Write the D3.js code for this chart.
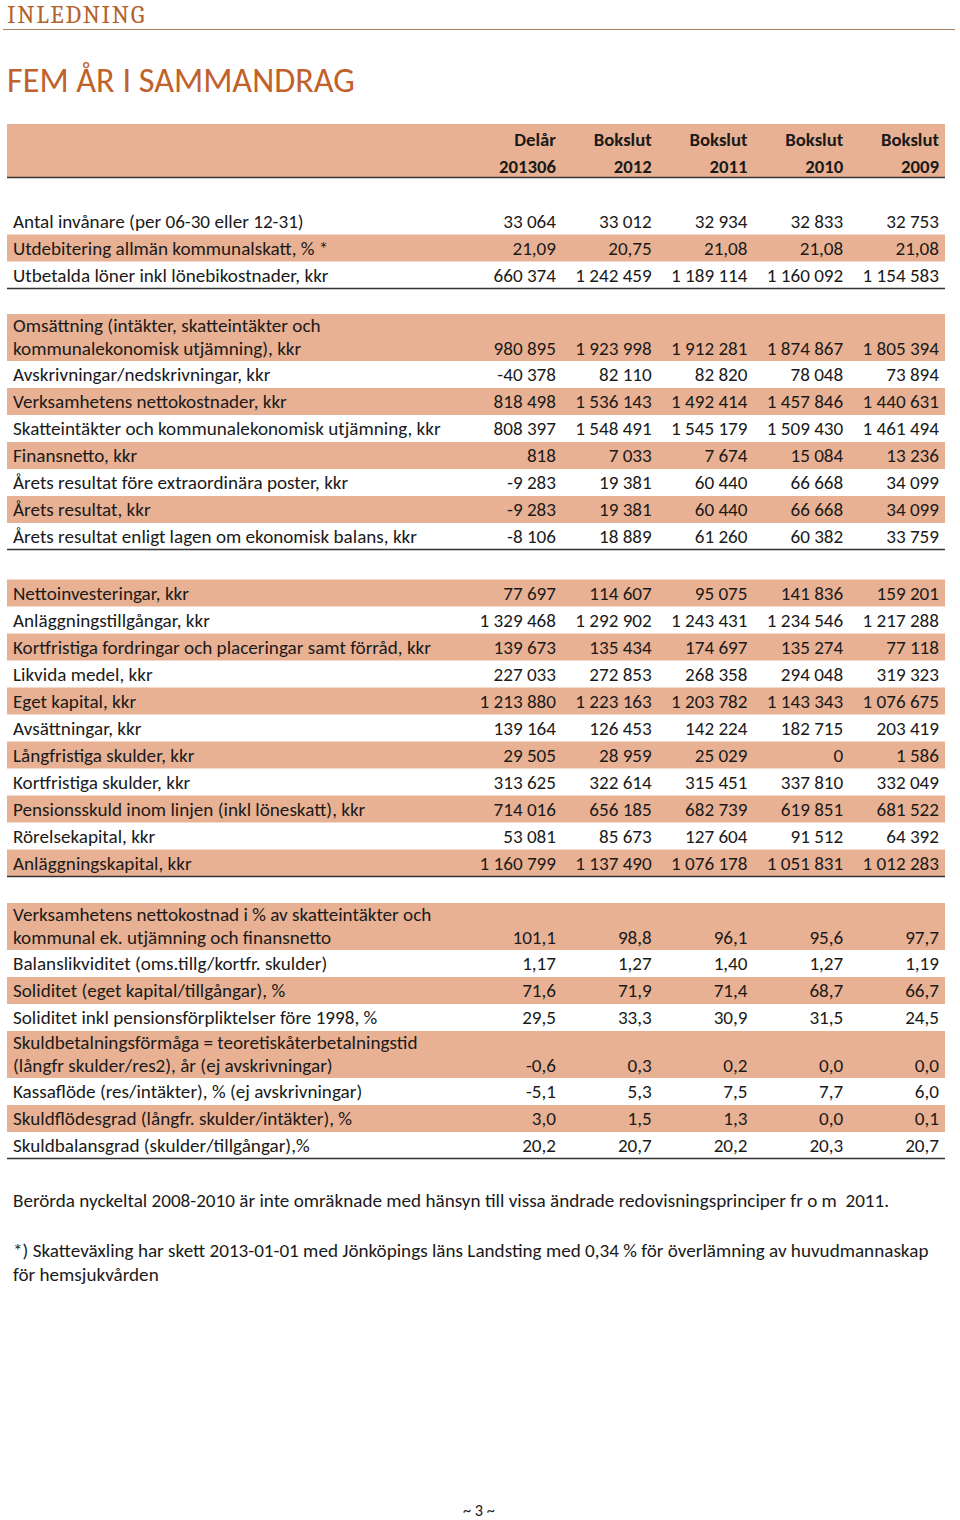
<!DOCTYPE html>
<html><head><meta charset="utf-8">
<script src="https://cdn.jsdelivr.net/npm/d3@7"></script>
<style>
html,body{margin:0;padding:0;background:#fff;}
svg{display:block;}
text{white-space:pre;}
</style></head>
<body>
<script>
// ---------- DATA ----------
const columnTop = ["Delår","Bokslut","Bokslut","Bokslut","Bokslut"];
const columnBottom = ["201306","2012","2011","2010","2009"];
const rowLabels = [
  "Antal invånare (per 06-30 eller 12-31)",
  "Utdebitering allmän kommunalskatt, % *",
  "Utbetalda löner inkl lönebikostnader, kkr",
  "Omsättning (intäkter, skatteintäkter och\nkommunalekonomisk utjämning), kkr",
  "Avskrivningar/nedskrivningar, kkr",
  "Verksamhetens nettokostnader, kkr",
  "Skatteintäkter och kommunalekonomisk utjämning, kkr",
  "Finansnetto, kkr",
  "Årets resultat före extraordinära poster, kkr",
  "Årets resultat, kkr",
  "Årets resultat enligt lagen om ekonomisk balans, kkr",
  "Nettoinvesteringar, kkr",
  "Anläggningstillgångar, kkr",
  "Kortfristiga fordringar och placeringar samt förråd, kkr",
  "Likvida medel, kkr",
  "Eget kapital, kkr",
  "Avsättningar, kkr",
  "Långfristiga skulder, kkr",
  "Kortfristiga skulder, kkr",
  "Pensionsskuld inom linjen (inkl löneskatt), kkr",
  "Rörelsekapital, kkr",
  "Anläggningskapital, kkr",
  "Verksamhetens nettokostnad i % av skatteintäkter och\nkommunal ek. utjämning och finansnetto",
  "Balanslikviditet (oms.tillg/kortfr. skulder)",
  "Soliditet (eget kapital/tillgångar), %",
  "Soliditet inkl pensionsförpliktelser före 1998, %",
  "Skuldbetalningsförmåga = teoretiskåterbetalningstid\n(långfr skulder/res2), år (ej avskrivningar)",
  "Kassaflöde (res/intäkter), % (ej avskrivningar)",
  "Skuldflödesgrad (långfr. skulder/intäkter), %",
  "Skuldbalansgrad (skulder/tillgångar),%"
];
const rowGroup = [0,0,0, 1,1,1,1,1,1,1,1, 2,2,2,2,2,2,2,2,2,2,2, 3,3,3,3,3,3,3,3];
const rowShaded = [0,1,0, 1,0,1,0,1,0,1,0, 1,0,1,0,1,0,1,0,1,0,1, 1,0,1,0,1,0,1,0];
const rowDecimals = [0,2,0, 0,0,0,0,0,0,0,0, 0,0,0,0,0,0,0,0,0,0,0, 1,2,1,1,1,1,1,1];

const delar201306 = [33064,21.09,660374, 980895,-40378,818498,808397,818,-9283,-9283,-8106,
  77697,1329468,139673,227033,1213880,139164,29505,313625,714016,53081,1160799,
  101.1,1.17,71.6,29.5,-0.6,-5.1,3.0,20.2];
const bokslut2012 = [33012,20.75,1242459, 1923998,82110,1536143,1548491,7033,19381,19381,18889,
  114607,1292902,135434,272853,1223163,126453,28959,322614,656185,85673,1137490,
  98.8,1.27,71.9,33.3,0.3,5.3,1.5,20.7];
const bokslut2011 = [32934,21.08,1189114, 1912281,82820,1492414,1545179,7674,60440,60440,61260,
  95075,1243431,174697,268358,1203782,142224,25029,315451,682739,127604,1076178,
  96.1,1.40,71.4,30.9,0.2,7.5,1.3,20.2];
const bokslut2010 = [32833,21.08,1160092, 1874867,78048,1457846,1509430,15084,66668,66668,60382,
  141836,1234546,135274,294048,1143343,182715,0,337810,619851,91512,1051831,
  95.6,1.27,68.7,31.5,0.0,7.7,0.0,20.3];
const bokslut2009 = [32753,21.08,1154583, 1805394,73894,1440631,1461494,13236,34099,34099,33759,
  159201,1217288,77118,319323,1076675,203419,1586,332049,681522,64392,1012283,
  97.7,1.19,66.7,24.5,0.0,6.0,0.1,20.7];
const series = [delar201306, bokslut2012, bokslut2011, bokslut2010, bokslut2009];

const pageHeader = "INLEDNING";
const pageTitle = "FEM ÅR I SAMMANDRAG";
const footnotes = [
  "Berörda nyckeltal 2008-2010 är inte omräknade med hänsyn till vissa ändrade redovisningsprinciper fr o m  2011.",
  "*) Skatteväxling har skett 2013-01-01 med Jönköpings läns Landsting med 0,34 % för överlämning av huvudmannaskap",
  "för hemsjukvården"
];
const pageNumber = "~ 3 ~";

// ---------- RENDER ----------
const W = 960, H = 1520;
const FONT = "Carlito, Calibri, 'Open Sans', sans-serif";
const BAND = "#E9B193";
const TEXT = "#1a1a1a";
const svg = d3.select("body").append("svg").attr("width", W).attr("height", H);

const loc = d3.formatLocale({decimal: ",", thousands: " ", grouping: [3], currency: ["", ""], minus: "-"});
const fmts = [loc.format(",.0f"), loc.format(",.1f"), loc.format(",.2f")];

function fitSize(text, family, weight, target) {
  const t = svg.append("text").attr("font-family", family).attr("font-weight", weight || "normal")
    .attr("font-size", 100).text(text);
  const w = t.node().getComputedTextLength();
  t.remove();
  return 100 * target / w;
}
const bodySize = fitSize("Skatteintäkter och kommunalekonomisk utjämning, kkr", FONT, "normal", 428);
const boldSize = fitSize("Bokslut", FONT, "bold", 58);
const titleSize = fitSize(pageTitle, FONT, "normal", 348);

// header "INLEDNING"
const hdr = svg.append("text").attr("x", 7).attr("y", 23)
  .attr("font-family", "Cambria, Caladea, 'DejaVu Serif', serif").attr("fill", "#B3632E")
  .attr("font-size", 25).text(pageHeader);
{
  const w = hdr.node().getComputedTextLength();
  hdr.attr("letter-spacing", Math.max(0, (138 - w) / 8.5));
}
svg.append("line").attr("x1", 3).attr("x2", 955).attr("y1", 29.5).attr("y2", 29.5)
  .attr("stroke", "#A9805F").attr("stroke-width", 1.2);

svg.append("text").attr("x", 7).attr("y", 92).attr("font-family", FONT)
  .attr("font-size", titleSize).attr("fill", "#C0622C").text(pageTitle);

// table geometry
const x = d3.scalePoint().domain(d3.range(columnTop.length)).range([556, 939]);
const tableLeft = 7, tableRight = 945, labelX = 13;

svg.append("rect").attr("x", tableLeft).attr("y", 124).attr("width", tableRight - tableLeft)
  .attr("height", 53).attr("fill", BAND);
const hg = svg.append("g").attr("font-family", FONT).attr("font-weight", "bold")
  .attr("font-size", boldSize).attr("fill", TEXT).attr("text-anchor", "end");
hg.selectAll("text.top").data(columnTop).join("text").attr("class", "top")
  .attr("x", (d, i) => x(i)).attr("y", 146).text(d => d);
hg.selectAll("text.bot").data(columnBottom).join("text").attr("class", "bot")
  .attr("x", (d, i) => x(i)).attr("y", 173).text(d => d);
svg.append("line").attr("x1", tableLeft).attr("x2", tableRight).attr("y1", 177.5).attr("y2", 177.5)
  .attr("stroke", "#333").attr("stroke-width", 1.3);

// row layout
const groupTop = [207.5, 314, 579.5, 903];
const ROW = 27, ROW2 = 47;
const rows = [];
let curGroup = -1, yCur = 0;
rowLabels.forEach((lab, i) => {
  if (rowGroup[i] !== curGroup) { curGroup = rowGroup[i]; yCur = groupTop[curGroup]; }
  const lines = lab.split("\n");
  const h = lines.length > 1 ? ROW2 : ROW;
  rows.push({i, lines, top: yCur, h, shaded: rowShaded[i], dec: rowDecimals[i], group: curGroup});
  yCur += h;
});
const groupBottoms = d3.rollups(rows, v => d3.max(v, r => r.top + r.h), r => r.group).map(d => d[1]);

const rg = svg.append("g").attr("font-family", FONT).attr("font-size", bodySize).attr("fill", TEXT);
const rowSel = rg.selectAll("g.row").data(rows).join("g").attr("class", "row");
rowSel.filter(r => r.shaded).append("rect")
  .attr("x", tableLeft).attr("y", r => r.top).attr("width", tableRight - tableLeft)
  .attr("height", r => r.h).attr("fill", BAND);
rowSel.each(function (r) {
  const g = d3.select(this);
  const centers = r.lines.length > 1 ? [r.top + 11, r.top + 34] : [r.top + 13.5];
  r.lines.forEach((ln, k) => {
    g.append("text").attr("x", labelX).attr("y", centers[k] + 6.5).text(ln);
  });
  const vy = centers[centers.length - 1] + 6.5;
  g.selectAll("text.val").data(series.map(s => s[r.i])).join("text").attr("class", "val")
    .attr("text-anchor", "end").attr("x", (d, j) => x(j)).attr("y", vy)
    .text(d => fmts[r.dec](d));
});
svg.selectAll("line.grp").data(groupBottoms).join("line").attr("class", "grp")
  .attr("x1", tableLeft).attr("x2", tableRight)
  .attr("y1", d => Math.round(d) - 0.5).attr("y2", d => Math.round(d) - 0.5)
  .attr("stroke", "#333").attr("stroke-width", 1.3);

// footnotes
const fy = [1207, 1257, 1281];
svg.selectAll("text.fn").data(footnotes).join("text").attr("class", "fn")
  .attr("x", labelX).attr("y", (d, i) => fy[i]).attr("font-family", FONT)
  .attr("font-size", bodySize).attr("fill", TEXT).text(d => d);

svg.append("text").attr("x", 479).attr("y", 1516).attr("text-anchor", "middle")
  .attr("font-family", FONT).attr("font-size", bodySize * 0.85).attr("fill", TEXT).text(pageNumber);
</script>
</body></html>
